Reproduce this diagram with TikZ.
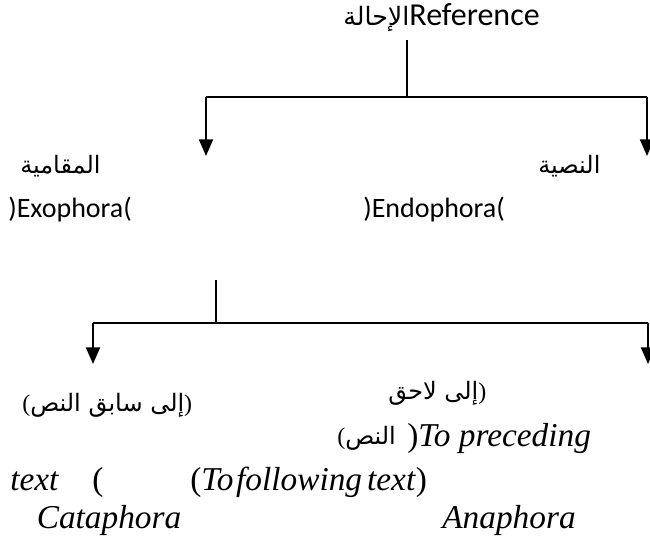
\documentclass[tikz,border=0pt]{standalone}
\usepackage{fontspec}
\setmainfont{Liberation Serif}
\newfontfamily\arabicfont[Script=Arabic]{DejaVu Sans}
\newfontfamily\latinsans{Carlito}
\TeXXeTstate=1
\usetikzlibrary{arrows.meta,positioning}
\newcommand{\lpar}{{\rmfamily(}}
\newcommand{\rpar}{{\rmfamily)}}

\begin{document}
\begin{tikzpicture}[x=0.75pt,y=-0.75pt,
    every node/.style={inner sep=0pt},
    artext/.style={font=\arabicfont\fontsize{18}{21}\selectfont},
    sanstext/.style={font=\latinsans\fontsize{21}{25}\selectfont},
    ittext/.style={font=\fontsize{25}{29}\selectfont},
    branch/.style={line width=1.5pt},
    down/.style={branch, -{Triangle[length=12.5pt,width=10.5pt]}}]
    \useasboundingbox (0,0) rectangle (650,552);

    % first level
    \node (title) at (343, 18) [anchor=west]
        {{\arabicfont\fontsize{19}{22}\selectfont\beginR الإحالة\endR}{\latinsans\fontsize{24}{28}\selectfont Reference}};
    \coordinate (t1) at (407, 40);
    \coordinate (j1) at (407, 97);
    \coordinate (l1) at (206, 97);
    \coordinate (r1) at (647, 97);
    \coordinate (l1tip) at (206, 156);
    \coordinate (r1tip) at (647, 156);
    \draw [branch] (t1) -- (j1);
    \draw [branch] (l1) -- (r1);
    \draw [down] (l1) -- (l1tip);
    \draw [down] (r1) -- (r1tip);

    \node (exoar) at (20, 166) [artext, anchor=west] {\beginR المقامية\endR};
    \node (endoar) at (538, 166) [artext, anchor=west] {\beginR النصية\endR};
    \node (exoen) at (8, 210) [sanstext, anchor=west] {)Exophora(};
    \node (endoen) at (363, 210) [sanstext, anchor=west] {)Endophora(};

    % second level
    \coordinate (t2) at (216, 280);
    \coordinate (j2) at (216, 323);
    \coordinate (l2) at (93, 323);
    \coordinate (r2) at (648, 323);
    \coordinate (l2tip) at (93, 364);
    \coordinate (r2tip) at (648, 364);
    \draw [branch] (t2) -- (j2);
    \draw [branch] (l2) -- (r2);
    \draw [down] (l2) -- (l2tip);
    \draw [down] (r2) -- (r2tip);

    \node (cataar) at (22, 405) [artext, anchor=west] {\lpar\beginR إلى سابق النص\endR\rpar};
    \node (anaar) at (388, 393) [artext, anchor=west] {\beginR إلى لاحق\endR\rpar};
    \node (anaar2) at (337, 438) [artext, anchor=west] {\lpar\beginR النص\endR};
    \node (preen) at (407, 438) [ittext, anchor=west] {)\textit{To preceding}};
    \node (texten) at (10, 482) [ittext, anchor=west] {\textit{text}\quad(};
    \node (folen) at (190, 482) [ittext, anchor=west] {(\textit{To\hspace{0.08em}following\hspace{0.15em}text})};
    \node (cata) at (109, 520) [ittext] {\textit{Cataphora}};
    \node (ana) at (509, 520) [ittext] {\textit{Anaphora}};
\end{tikzpicture}
\end{document}
